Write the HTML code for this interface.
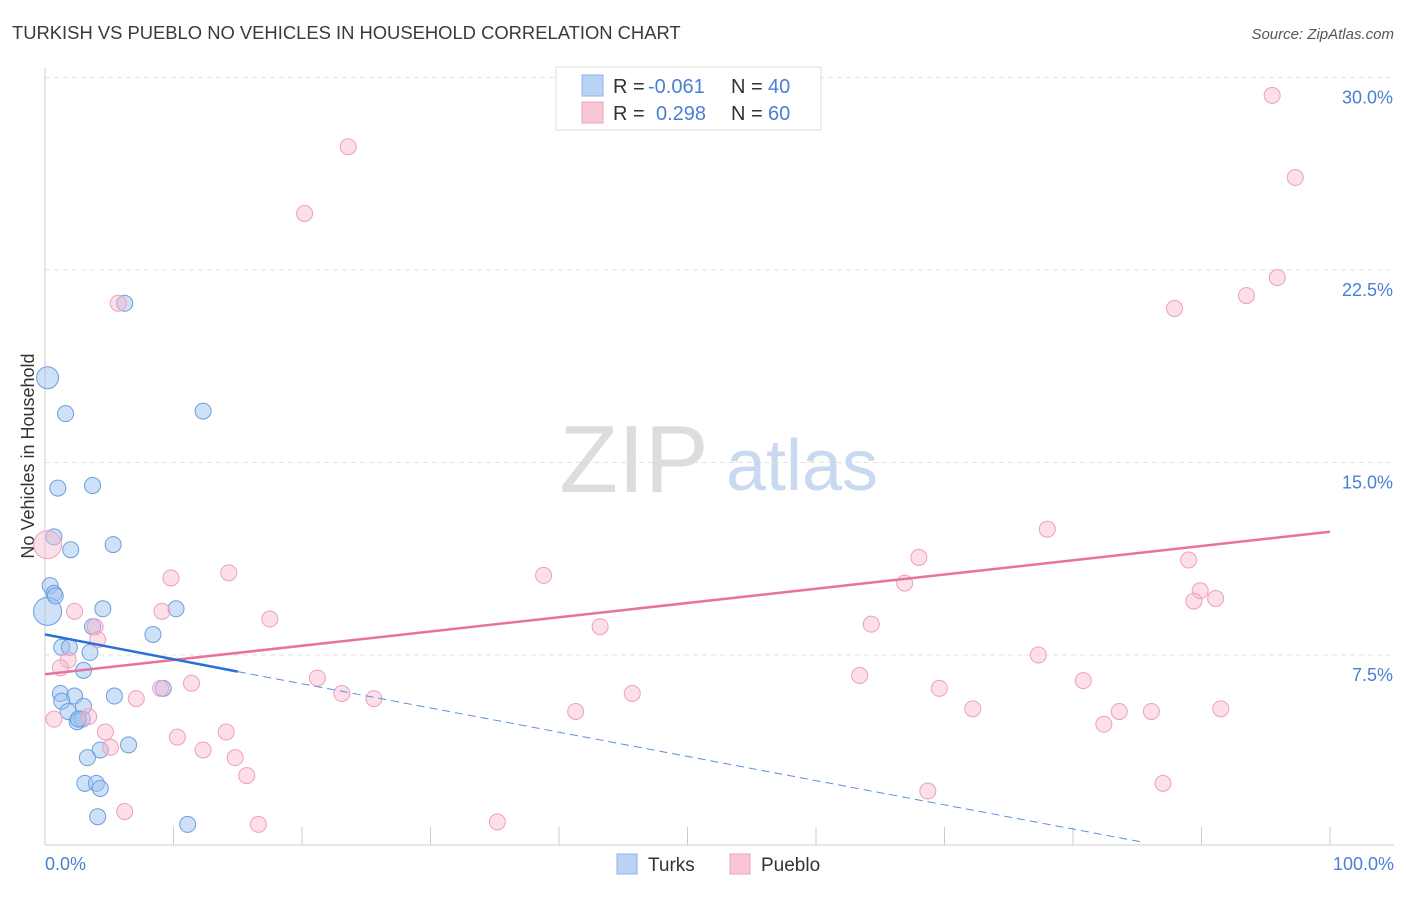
<!DOCTYPE html>
<html><head><meta charset="utf-8"><style>
body{margin:0;background:#fff;font-family:"Liberation Sans",sans-serif}
svg text{font-family:"Liberation Sans",sans-serif}
</style></head><body>
<svg width="1406" height="892" viewBox="0 0 1406 892">
<text x="12" y="39" font-size="18.4" fill="#3a3a3a">TURKISH VS PUEBLO NO VEHICLES IN HOUSEHOLD CORRELATION CHART</text>
<text x="1394" y="39" font-size="15" fill="#555" text-anchor="end" font-style="italic">Source: ZipAtlas.com</text>
<g id="grid"></g>
<g>
<text x="634" y="492" font-size="96" fill="#ddd" text-anchor="middle" font-family="Liberation Serif">ZIP</text>
<text x="802" y="490" font-size="72" fill="#c9d9ef" text-anchor="middle">atlas</text>
</g>
<line x1="45" y1="68" x2="45" y2="845" stroke="#ccc"/>
<line x1="45" y1="845" x2="1394" y2="845" stroke="#ccc"/>
<g id="xticks"></g>
<g id="ylabels"></g>
<text x="45" y="870" font-size="18" fill="#4a7fd6">0.0%</text>
<text x="1394" y="870" font-size="18" fill="#4a7fd6" text-anchor="end">100.0%</text>
<text transform="translate(34,456) rotate(-90)" font-size="18" fill="#333" text-anchor="middle">No Vehicles in Household</text>
<g id="pts"></g>
<g id="lines"></g>
<g>
<rect x="556" y="67" width="265" height="63" fill="#fff" stroke="#ddd"/>
<rect x="582" y="75" width="21" height="21" fill="#b9d3f5" stroke="#8db4ea"/>
<rect x="582" y="102" width="21" height="21" fill="#f9c6d5" stroke="#efa3bb"/>
<g>
<text x="613" y="93" font-size="20" fill="#333">R =</text>
<text x="648" y="93" font-size="20" fill="#4a7fd6">-0.061</text>
<text x="731" y="93" font-size="20" fill="#333">N =</text>
<text x="768" y="93" font-size="20" fill="#4a7fd6">40</text>
</g>
<g>
<text x="613" y="120" font-size="20" fill="#333">R =</text>
<text x="656" y="120" font-size="20" fill="#4a7fd6">0.298</text>
<text x="731" y="120" font-size="20" fill="#333">N =</text>
<text x="768" y="120" font-size="20" fill="#4a7fd6">60</text>
</g>
</g>
<g>
<rect x="617" y="854" width="20" height="20" fill="#b9d3f5" stroke="#8db4ea"/>
<text x="648" y="871" font-size="19" fill="#333">Turks</text>
<rect x="730" y="854" width="20" height="20" fill="#f9c6d5" stroke="#efa3bb"/>
<text x="761" y="871" font-size="19" fill="#333">Pueblo</text>
</g>
</svg>
<script>
const yTicks=[7.5,15,22.5,30];
const yTickLabels=["7.5%","15.0%","22.5%","30.0%"];
const turksX=[0.2,1.6,12.3,6.2,1.0,3.7,0.7,2.0,5.3,0.4,0.7,0.2,4.5,10.2,8.4,3.7,1.3,1.9,3.5,3.0,9.2,5.4,1.2,2.3,1.3,3.0,1.8,2.6,2.5,2.9,4.3,6.5,3.3,3.1,4.0,4.3,4.1,11.1,2.6,0.8];
const turksY=[18.3,16.9,17.0,21.2,14.0,14.1,12.1,11.6,11.8,10.2,9.9,9.2,9.3,9.3,8.3,8.6,7.8,7.8,7.6,6.9,6.2,5.9,6.0,5.9,5.7,5.5,5.3,5.0,4.9,5.0,3.8,4.0,3.5,2.5,2.5,2.3,1.2,0.9,5.0,9.8];
const turksR=[11,8,8,8,8,8,8,8,8,8,8,14,8,8,8,8,8,8,8,8,8,8,8,8,8,8,8,8,8,8,8,8,8,8,8,8,8,8,8,8];
const puebloX=[95.5,23.6,20.2,97.3,95.9,93.5,87.9,5.7,0.2,78.0,68.0,89.0,14.3,9.8,38.8,66.9,89.9,89.4,91.1,2.3,9.1,17.5,3.9,43.2,64.3,4.1,1.8,1.2,77.3,21.2,63.4,11.4,80.8,9.0,23.1,25.6,45.7,69.6,7.1,0.7,3.4,41.3,72.2,91.5,83.6,86.1,82.4,4.7,14.1,10.3,5.1,12.3,14.8,15.7,87.0,68.7,6.2,16.6,35.2];
const puebloY=[29.3,27.3,24.7,26.1,22.2,21.5,21.0,21.2,11.8,12.4,11.3,11.2,10.7,10.5,10.6,10.3,10.0,9.6,9.7,9.2,9.2,8.9,8.6,8.6,8.7,8.1,7.3,7.0,7.5,6.6,6.7,6.4,6.5,6.2,6.0,5.8,6.0,6.2,5.8,5.0,5.1,5.3,5.4,5.4,5.3,5.3,4.8,4.5,4.5,4.3,3.9,3.8,3.5,2.8,2.5,2.2,1.4,0.9,1.0];
const puebloR=[8,8,8,8,8,8,8,8,14,8,8,8,8,8,8,8,8,8,8,8,8,8,8,8,8,8,8,8,8,8,8,8,8,8,8,8,8,8,8,8,8,8,8,8,8,8,8,8,8,8,8,8,8,8,8,8,8,8,8];
const turksLine=[8.3,6.85,15];
const turksDashEnd=[85.5,0.2];
const puebloLine=[6.75,12.3];
const NS="http://www.w3.org/2000/svg";
const xs=v=>45+v*12.85, ys=v=>847.5-v*25.67;
function mk(t,a,p){const e=document.createElementNS(NS,t);for(const k in a)e.setAttribute(k,a[k]);p.appendChild(e);return e;}
const grid=document.getElementById('grid'),yl=document.getElementById('ylabels'),xt=document.getElementById('xticks');
yTicks.forEach((v,i)=>{
 const l=mk('line',{x1:45,x2:1394,y1:ys(v),y2:ys(v),stroke:'#e2e2e2','stroke-dasharray':'5,4'},grid);
 
 
 const t=mk('text',{x:1393,y:ys(v)+26,'font-size':18,fill:'#4a7fd6','text-anchor':'end'},yl);
 t.textContent=yTickLabels[i];
 
 
});
for(let i=0;i<=10;i++){
 const l=mk('line',{x1:xs(i*10),x2:xs(i*10),y1:827,y2:845,stroke:'#ccc'},xt);
 
 
}
const pts=document.getElementById('pts');
turksX.forEach((v,i)=>{
 const c=mk('circle',{cx:xs(v),cy:ys(turksY[i]),r:turksR[i],fill:'rgba(160,195,240,0.5)',stroke:'#6a9fe0','stroke-width':1},pts);
 
 
});
puebloX.forEach((v,i)=>{
 const c=mk('circle',{cx:xs(v),cy:ys(puebloY[i]),r:puebloR[i],fill:'rgba(248,185,205,0.45)',stroke:'#eea0b8','stroke-width':1},pts);
 
 
});
const ln=document.getElementById('lines');
let a=mk('line',{x1:xs(0),y1:ys(puebloLine[0]),x2:xs(100),y2:ys(puebloLine[1]),stroke:'#e8739a','stroke-width':2.5},ln);


let b=mk('line',{x1:xs(0),y1:ys(turksLine[0]),x2:xs(turksLine[2]),y2:ys(turksLine[1]),stroke:'#2a6fd6','stroke-width':2.5},ln);


let d=mk('line',{x1:xs(turksLine[2]),y1:ys(turksLine[1]),x2:xs(turksDashEnd[0]),y2:ys(turksDashEnd[1]),stroke:'#5a90e0','stroke-width':1,'stroke-dasharray':'8,5'},ln);


</script>
</body></html>
